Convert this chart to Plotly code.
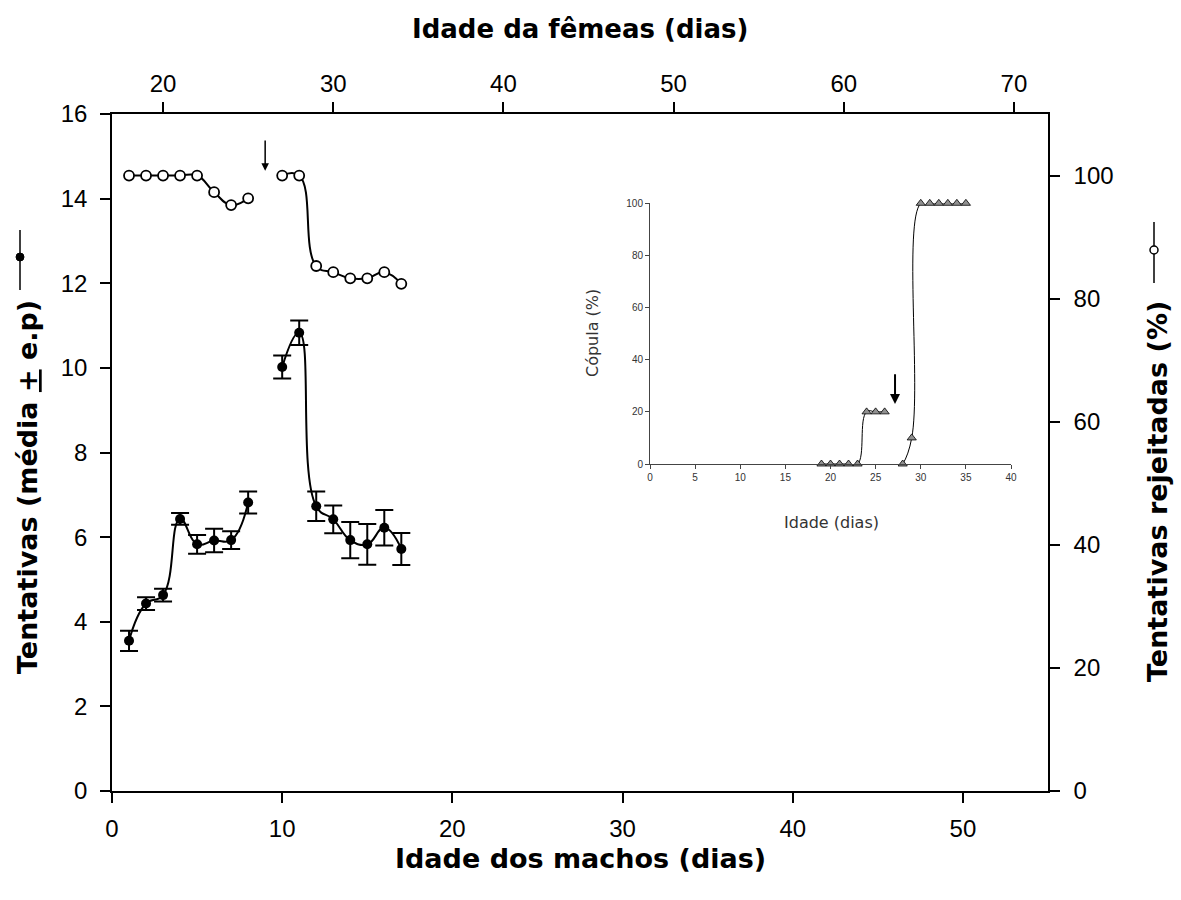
import plotly.graph_objects as go

# ---------------- data ----------------
dias_machos = [1, 2, 3, 4, 5, 6, 7, 8, 9, 10, 11, 12, 13, 14, 15, 16, 17]
tentativas_media = [3.55, 4.43, 4.63, 6.43, 5.83, 5.92, 5.93, 6.82, None,
                    10.02, 10.83, 6.73, 6.42, 5.93, 5.83, 6.22, 5.72]
tentativas_ep = [0.24, 0.15, 0.15, 0.14, 0.22, 0.28, 0.21, 0.26, None,
                 0.27, 0.29, 0.35, 0.33, 0.43, 0.48, 0.42, 0.38]
rejeitadas_pct = [100, 100, 100, 100, 100, 97.3, 95.2, 96.3, None,
                  100, 100, 85.3, 84.3, 83.3, 83.3, 84.3, 82.4]

idade_inset = [19, 20, 21, 22, 23, 24, 25, 26, 27, 28, 29, 30, 31, 32, 33, 34, 35]
copula_pct = [0, 0, 0, 0, 0, 20, 20, 20, None, 0, 10, 100, 100, 100, 100, 100, 100]

x_ticks_machos = [0, 10, 20, 30, 40, 50]
x_ticks_femeas = [20, 30, 40, 50, 60, 70]
y_ticks_left = [0, 2, 4, 6, 8, 10, 12, 14, 16]
y_ticks_right = [0, 20, 40, 60, 80, 100]
inset_xticks = [0, 5, 10, 15, 20, 25, 30, 35, 40]
inset_yticks = [0, 20, 40, 60, 80, 100]

seta_principal = dict(x=9, y_tip=14.66, y_tail=15.41)
seta_inset = dict(x=27.15, y_tip=23, y_tail=35)

# ---------------- layout geometry ----------------
W, H = 1181, 900
ML, MR, MT, MB = 112, 133, 114, 109
PW, PH = W - ML - MR, H - MT - MB


def px2x(px):
    return (px - ML) / PW


def px2y(py):
    return (H - MB - py) / PH


TICKFONT = dict(family="Liberation Sans, Arial", size=24, color="black")


def titlefont(size):
    return dict(family="DejaVu Sans", size=size, color="black", weight="bold")


fig = go.Figure()

# mean +- se (left axis)
fig.add_trace(go.Scatter(
    x=dias_machos, y=tentativas_media,
    mode="lines+markers",
    line=dict(shape="spline", smoothing=1.3, color="black", width=2),
    marker=dict(symbol="circle", size=10, color="black"),
    error_y=dict(type="data", array=tentativas_ep, visible=True,
                 color="black", thickness=2, width=9),
    connectgaps=False, cliponaxis=False, showlegend=False,
    xaxis="x", yaxis="y"))

# rejected attempts (right axis)
fig.add_trace(go.Scatter(
    x=dias_machos, y=rejeitadas_pct,
    mode="lines+markers",
    line=dict(shape="spline", smoothing=1.3, color="black", width=2),
    marker=dict(symbol="circle", size=10, color="white",
                line=dict(color="black", width=1.8)),
    connectgaps=False, cliponaxis=False, showlegend=False,
    xaxis="x", yaxis="y2"))

# dummy trace to register top axis
fig.add_trace(go.Scatter(x=[None], y=[None], xaxis="x2", yaxis="y",
                         showlegend=False, hoverinfo="skip"))

# inset
fig.add_trace(go.Scatter(
    x=idade_inset, y=copula_pct,
    mode="lines+markers",
    line=dict(shape="spline", smoothing=1.3, color="black", width=1),
    marker=dict(symbol="triangle-up", size=8, color="#909090",
                line=dict(color="black", width=0.8)),
    connectgaps=False, cliponaxis=False, showlegend=False,
    xaxis="x3", yaxis="y3"))

axis_common = dict(showgrid=False, zeroline=False, showline=True,
                   linecolor="black", linewidth=1.5, ticks="outside",
                   ticklen=10, tickwidth=1.5, tickcolor="black",
                   tickfont=TICKFONT)

inset_common = dict(showgrid=False, zeroline=False, showline=True,
                    linecolor="#444444", linewidth=1, ticks="outside",
                    ticklen=4, tickwidth=1, tickcolor="#444444",
                    tickfont=dict(family="Liberation Sans, Arial", size=10,
                                  color="#333333"))

fig.update_layout(
    width=W, height=H,
    margin=dict(l=ML, r=MR, t=MT, b=MB, pad=0),
    paper_bgcolor="white", plot_bgcolor="white",
    showlegend=False,
    xaxis=dict(axis_common, range=[0, 55], tickvals=x_ticks_machos,
               anchor="y", domain=[0, 1], ticklabelstandoff=5),
    yaxis=dict(axis_common, range=[0, 16], tickvals=y_ticks_left,
               anchor="x", domain=[0, 1], ticklabelstandoff=8),
    xaxis2=dict(axis_common, range=[17, 72], tickvals=x_ticks_femeas,
                overlaying="x", side="top", anchor="y", ticklabelstandoff=1),
    yaxis2=dict(axis_common, range=[0, 110], tickvals=y_ticks_right,
                overlaying="y", side="right", anchor="x", ticklabelstandoff=9),
    xaxis3=dict(inset_common, range=[0, 40], tickvals=inset_xticks,
                anchor="y3", domain=[px2x(650), px2x(1011)]),
    yaxis3=dict(inset_common, range=[0, 100], tickvals=inset_yticks,
                anchor="x3", domain=[px2y(464), px2y(203.3)]),
)

annotations = [
    dict(text="Idade dos machos (dias)", xref="paper", yref="paper",
         x=0.5, y=px2y(858), showarrow=False, font=titlefont(27),
         xanchor="center", yanchor="middle"),
    dict(text="Idade da fêmeas (dias)", xref="paper", yref="paper",
         x=0.5, y=px2y(29), showarrow=False, font=titlefont(26),
         xanchor="center", yanchor="middle"),
    dict(text="Tentativas (média <u>+</u> e.p)", xref="paper", yref="paper",
         x=px2x(27), y=px2y(487), showarrow=False, font=titlefont(27),
         textangle=-90, xanchor="center", yanchor="middle"),
    dict(text="Tentativas rejeitadas (%)", xref="paper", yref="paper",
         x=px2x(1157), y=px2y(492), showarrow=False, font=titlefont(27),
         textangle=-90, xanchor="center", yanchor="middle"),
    dict(text="Cópula (%)", xref="paper", yref="paper",
         x=px2x(592), y=px2y(333), showarrow=False,
         font=dict(family="DejaVu Sans", size=16, color="#333333"),
         textangle=-90, xanchor="center", yanchor="middle"),
    dict(text="Idade (dias)", xref="paper", yref="paper",
         x=px2x(831), y=px2y(522), showarrow=False,
         font=dict(family="DejaVu Sans", size=16, color="#333333"),
         xanchor="center", yanchor="middle"),
    # arrows
    dict(x=seta_principal["x"], y=seta_principal["y_tip"], xref="x", yref="y",
         ax=seta_principal["x"], ay=seta_principal["y_tail"], axref="x", ayref="y",
         showarrow=True, arrowhead=2, arrowsize=1, arrowwidth=1.5,
         arrowcolor="black", text=""),
    dict(x=seta_inset["x"], y=seta_inset["y_tip"], xref="x3", yref="y3",
         ax=seta_inset["x"], ay=seta_inset["y_tail"], axref="x3", ayref="y3",
         showarrow=True, arrowhead=2, arrowsize=1, arrowwidth=2,
         arrowcolor="black", text=""),
]
fig.update_layout(annotations=annotations)

# legend-like symbols next to the rotated titles
shapes = [
    dict(type="line", xref="paper", yref="paper",
         x0=px2x(20), x1=px2x(20), y0=px2y(230), y1=px2y(290),
         line=dict(color="black", width=1.5)),
    dict(type="circle", xref="paper", yref="paper",
         x0=px2x(16), x1=px2x(24), y0=px2y(253), y1=px2y(261),
         fillcolor="black", line=dict(color="black", width=1)),
    dict(type="line", xref="paper", yref="paper",
         x0=px2x(1154), x1=px2x(1154), y0=px2y(222), y1=px2y(283),
         line=dict(color="black", width=1.5)),
    dict(type="circle", xref="paper", yref="paper",
         x0=px2x(1150), x1=px2x(1158), y0=px2y(246), y1=px2y(254),
         fillcolor="white", line=dict(color="black", width=1.5)),
]
fig.update_layout(shapes=shapes)

fig.write_html("out.html")
